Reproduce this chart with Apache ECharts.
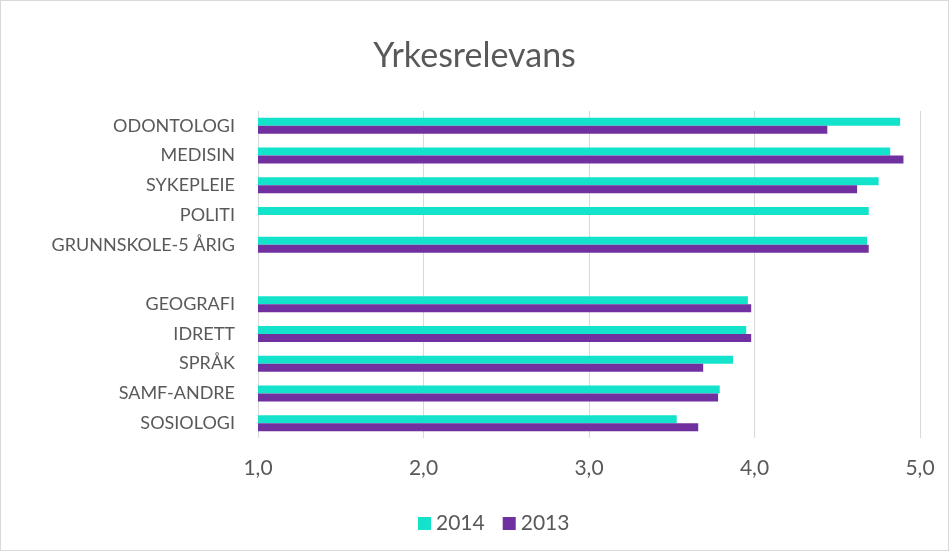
<!DOCTYPE html>
<html>
<head>
<meta charset="utf-8">
<script src="https://cdn.jsdelivr.net/npm/echarts@6/dist/echarts.min.js"></script>
<style>
  html, body { margin: 0; padding: 0; background: #fff; }
  #chart {
    width: 947px;
    height: 549px;
    border: 1px solid #d9d9d9;
  }
</style>
</head>
<body>
<div id="chart"></div>
<script>
const categories = [
  "ODONTOLOGI", "MEDISIN", "SYKEPLEIE", "POLITI", "GRUNNSKOLE-5 ÅRIG",
  "", "GEOGRAFI", "IDRETT", "SPRÅK", "SAMF-ANDRE", "SOSIOLOGI",
];
const values2014 = [4.88, 4.82, 4.75, 4.69, 4.68, null, 3.96, 3.95, 3.87, 3.79, 3.53];
const values2013 = [4.44, 4.90, 4.62, null, 4.69, null, 3.98, 3.98, 3.69, 3.78, 3.66];

const textColor = "#595959";
const font = "Lato";

const chart = echarts.init(document.getElementById("chart"));

chart.setOption({
  animation: false,
  title: {
    text: "Yrkesrelevans",
    left: "center",
    top: 33,
    textStyle: { color: textColor, fontSize: 34, fontWeight: "normal", fontFamily: font },
  },
  legend: {
    bottom: 11,
    left: 412,
    itemWidth: 13,
    itemHeight: 13,
    itemGap: 18,
    icon: "rect",
    textStyle: { color: textColor, fontSize: 21, fontFamily: font },
    data: ["2014", "2013"],
  },
  grid: { top: 110, left: 257, right: 28, bottom: 112, containLabel: false },
  xAxis: {
    type: "value",
    min: 1,
    max: 5,
    interval: 1,
    axisLine: { show: false },
    axisTick: { show: false },
    splitLine: { lineStyle: { color: "#d9d9d9", width: 1 } },
    axisLabel: {
      color: textColor,
      fontSize: 21,
      fontFamily: font,
      margin: 20,
      formatter: (v) => v.toFixed(1).replace(".", ","),
    },
  },
  yAxis: {
    type: "category",
    inverse: true,
    data: categories,
    axisLine: { show: false },
    axisTick: { show: false },
    axisLabel: { color: textColor, fontSize: 18, fontFamily: font, margin: 23 },
  },
  series: [
    {
      name: "2014",
      type: "bar",
      data: values2014,
      barWidth: 8,
      barGap: "0%",
      itemStyle: { color: "#14e3cc" },
    },
    {
      name: "2013",
      type: "bar",
      data: values2013,
      barWidth: 8,
      barGap: "0%",
      itemStyle: { color: "#7030a0" },
    },
  ],
});
</script>
</body>
</html>
